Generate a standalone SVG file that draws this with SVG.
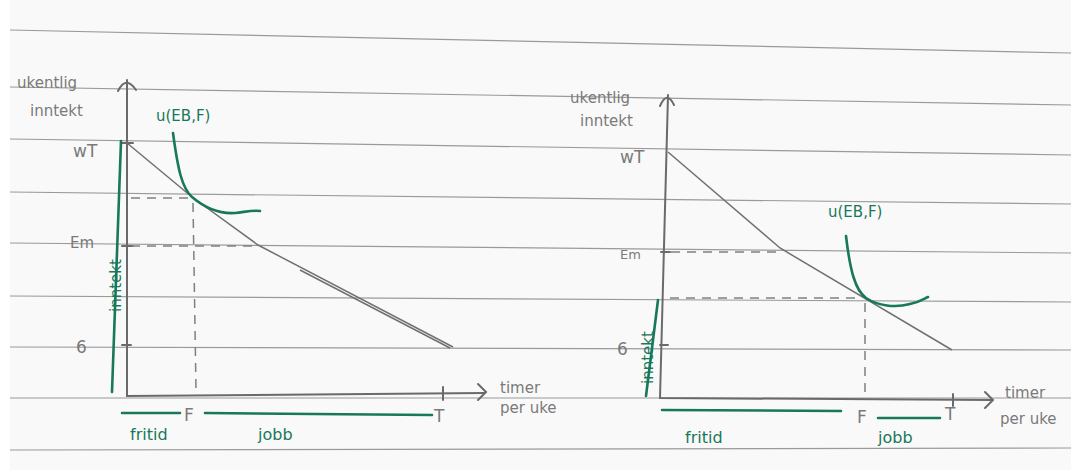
<svg xmlns="http://www.w3.org/2000/svg" width="1071" height="470" viewBox="0 0 1071 470">
<defs>
<style>
.rule{stroke:#9a9a9a;stroke-width:1.2;fill:none}
.axis{stroke:#6a6a6a;stroke-width:2;fill:none;stroke-linecap:round}
.budget{stroke:#707070;stroke-width:1.5;fill:none}
.dash{stroke:#808080;stroke-width:1.5;fill:none;stroke-dasharray:9 7}
.green{stroke:#17785a;stroke-width:2.6;fill:none;stroke-linecap:round}
.gl{font-family:"DejaVu Sans",sans-serif;fill:#7a7a7a}
.gt{font-family:"DejaVu Sans",sans-serif;fill:#17785a}
</style>
</defs>
<rect width="1071" height="470" fill="#ffffff"/>
<rect x="10" y="0" width="1061" height="470" fill="#f9f9f9"/>
<g id="paper">
<line class="rule" x1="10" y1="30" x2="1071" y2="53"/>
<line class="rule" x1="10" y1="87" x2="1071" y2="105"/>
<line class="rule" x1="10" y1="139" x2="1071" y2="155"/>
<line class="rule" x1="10" y1="192" x2="1071" y2="204"/>
<line class="rule" x1="10" y1="243" x2="1071" y2="253"/>
<line class="rule" x1="10" y1="296" x2="1071" y2="302"/>
<line class="rule" x1="10" y1="347" x2="1071" y2="350"/>
<line class="rule" x1="10" y1="398" x2="1071" y2="398"/>
<line class="rule" x1="10" y1="450" x2="1071" y2="448"/>
</g>
<g id="left-graph">
<g id="left-axes">
<path class="axis" d="M127,80 L127,396 L485,393"/>
<path class="axis" d="M118,91 Q126,75 136,90" stroke-width="1.6"/>
<path class="axis" d="M478,384 L486,392 L478,400" stroke-width="1.6"/>
<path class="axis" d="M122,143 L133,143 M122,246 L133,246 M122,345 L131,345 M443,387 L443,400" stroke-width="1.5"/>
</g>
<g id="left-budget">
<path class="budget" d="M127,143 L192,197 L258,245 L453,347"/>
<path class="budget" d="M300,270 L450,348" stroke-width="1"/>
</g>
<path class="dash" d="M131,198 L190,198 M193,203 L196,390 M131,246 L258,246"/>
<path id="left-indifference" class="green" d="M173,133 C178,170 182,188 192,197 C205,208 220,214 235,213 C245,212 252,210 260,211"/>
<path class="green" d="M121,141 L112,392"/>
<text class="gt" font-size="15" transform="translate(121,312) rotate(-90)">inntekt</text>
<path class="green" d="M122,413 L180,413 M205,413 L432,415"/>
<text class="gl" x="17" y="88" font-size="15">ukentlig</text>
<text class="gl" x="30" y="116" font-size="15">inntekt</text>
<text class="gl" x="73" y="157" font-size="17">wT</text>
<text class="gl" x="70" y="248" font-size="15">Em</text>
<text class="gl" x="76" y="353" font-size="17">6</text>
<text class="gt" x="156" y="121" font-size="15">u(EB,F)</text>
<text class="gl" x="184" y="421" font-size="17">F</text>
<text class="gl" x="434" y="422" font-size="17">T</text>
<text class="gl" x="500" y="393" font-size="15">timer</text>
<text class="gl" x="500" y="413" font-size="15">per uke</text>
<text class="gt" x="130" y="440" font-size="16">fritid</text>
<text class="gt" x="258" y="440" font-size="16">jobb</text>
</g>
<g id="right-graph">
<g id="right-axes">
<path class="axis" d="M668,95 L660,398 L992,400"/>
<path class="axis" d="M660,106 Q667,90 674,105" stroke-width="1.6"/>
<path class="axis" d="M985,392 L993,400 L985,408" stroke-width="1.6"/>
<path class="axis" d="M661,252 L670,252 M660,345 L668,345 M953,394 L953,406" stroke-width="1.5"/>
</g>
<path id="right-budget" class="budget" d="M668,152 L780,248 L952,350"/>
<path class="dash" d="M671,252 L780,252 M670,298 L862,298 M865,303 L865,392"/>
<path id="right-indifference" class="green" d="M846,236 C850,270 855,290 866,298 C878,306 895,308 910,304 C920,302 925,298 928,297"/>
<path class="green" d="M658,300 L646,396"/>
<text class="gt" font-size="15" transform="translate(653,384) rotate(-90)">inntekt</text>
<path class="green" d="M662,410 L841,411 M878,418 L940,418"/>
<text class="gl" x="570" y="103" font-size="15">ukentlig</text>
<text class="gl" x="580" y="126" font-size="15">inntekt</text>
<text class="gl" x="620" y="163" font-size="17">wT</text>
<text class="gl" x="620" y="259" font-size="13">Em</text>
<text class="gl" x="617" y="355" font-size="17">6</text>
<text class="gt" x="828" y="217" font-size="15">u(EB,F)</text>
<text class="gl" x="857" y="423" font-size="17">F</text>
<text class="gl" x="945" y="420" font-size="17">T</text>
<text class="gl" x="1005" y="398" font-size="15">timer</text>
<text class="gl" x="1000" y="424" font-size="15">per uke</text>
<text class="gt" x="685" y="443" font-size="16">fritid</text>
<text class="gt" x="878" y="443" font-size="16">jobb</text>
</g>
</svg>
